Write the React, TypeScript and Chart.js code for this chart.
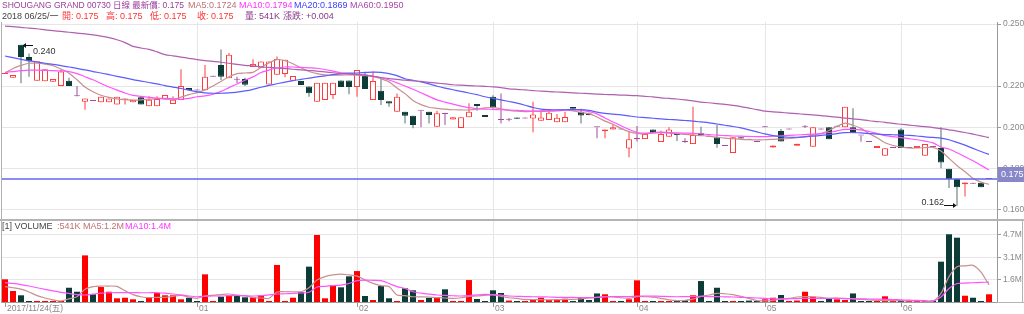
import React, { useEffect, useRef } from "react";
import { Chart, registerables } from "chart.js";
Chart.register(...registerables);

const FONT = '"Liberation Sans", Arial, "Noto Sans CJK TC", sans-serif';

// ---------------- data ----------------
const stockTitle = "SHOUGANG GRAND 00730 日線";
const lastDateLabel = "2018 06/25/一";
const monthTickIdx = [0, 24, 44, 61, 79, 95, 112];
const monthLabels = ["2017/11/24(五)", "01", "02", "03", "04", "05", "06"];
const priceTicks = [0.16, 0.18, 0.2, 0.22, 0.25];
const volTicks = [1.6, 3.1, 4.7];

const opens = [
  0.2258, 0.2240, 0.2400, 0.2340, 0.2226, 0.2223, 0.2221, 0.2200, 0.2226, 0.2150,
  0.2124, 0.2127, 0.2121, 0.2121, 0.2111, 0.2132, 0.2121, 0.2145, 0.2102, 0.2102,
  0.2135, 0.2113, 0.2132, 0.2190, 0.2178, 0.2180, 0.2245, 0.2302, 0.2237, 0.2230,
  0.2234, 0.2292, 0.2288, 0.2207, 0.2255, 0.2258, 0.2225, 0.2224, 0.2197, 0.2124,
  0.2132, 0.2157, 0.2227, 0.2227, 0.2195, 0.2256, 0.2132, 0.2177, 0.2126, 0.2076,
  0.2076, 0.2056, 0.2080, 0.2076, 0.2003, 0.2065, 0.2038, 0.1997, 0.2049, 0.2113,
  0.2060, 0.2148, 0.2035, 0.2037, 0.2048, 0.2043, 0.2043, 0.2032, 0.2035, 0.2025,
  0.2025, 0.2098, 0.2076, 0.2067, 0.2000, 0.1982, 0.1990, 0.1990, 0.1898, 0.1943,
  0.1943, 0.1990, 0.1929, 0.1955, 0.1968, 0.1929, 0.1919, 0.1971, 0.1955, 0.1952,
  0.1910, 0.1876, 0.1952, 0.1940, 0.1929, 0.2000, 0.1902, 0.1982, 0.1990, 0.1911,
  0.2003, 0.1906, 0.1990, 0.2000, 0.2003, 0.2000, 0.2000, 0.1960, 0.1929, 0.1900,
  0.1862, 0.1900, 0.1990, 0.1900, 0.1900, 0.1862, 0.1905, 0.1900, 0.1800, 0.1750,
  0.1725, 0.1727, 0.1732, 0.1750,
];
const highs = [
  0.2262, 0.2253, 0.2400, 0.2357, 0.2320, 0.2281, 0.2234, 0.2280, 0.2240, 0.2200,
  0.2140, 0.2127, 0.2148, 0.2139, 0.2148, 0.2140, 0.2132, 0.2150, 0.2150, 0.2150,
  0.2156, 0.2150, 0.2281, 0.2190, 0.2178, 0.2302, 0.2245, 0.2377, 0.2360, 0.2245,
  0.2240, 0.2329, 0.2318, 0.2318, 0.2343, 0.2327, 0.2248, 0.2224, 0.2197, 0.2216,
  0.2216, 0.2216, 0.2227, 0.2227, 0.2277, 0.2270, 0.2270, 0.2235, 0.2126, 0.2164,
  0.2076, 0.2056, 0.2080, 0.2076, 0.2080, 0.2070, 0.2049, 0.2049, 0.2117, 0.2113,
  0.2060, 0.2155, 0.2164, 0.2045, 0.2048, 0.2043, 0.2124, 0.2083, 0.2081, 0.2065,
  0.2075, 0.2098, 0.2090, 0.2070, 0.2000, 0.1990, 0.2016, 0.1990, 0.1982, 0.2006,
  0.1968, 0.1990, 0.1984, 0.2000, 0.1968, 0.1947, 0.2100, 0.2003, 0.1955, 0.2011,
  0.1910, 0.1952, 0.1952, 0.1940, 0.1929, 0.2000, 0.1912, 0.1992, 0.1990, 0.1920,
  0.2010, 0.2000, 0.1990, 0.2000, 0.2003, 0.2100, 0.2092, 0.1960, 0.1929, 0.1910,
  0.1899, 0.1900, 0.1995, 0.1900, 0.1910, 0.1919, 0.1905, 0.2000, 0.1800, 0.1750,
  0.1733, 0.1727, 0.1732, 0.1750,
];
const lows = [
  0.2258, 0.2240, 0.2213, 0.2245, 0.2226, 0.2223, 0.2221, 0.2200, 0.2200, 0.2150,
  0.2085, 0.2127, 0.2121, 0.2121, 0.2111, 0.2110, 0.2121, 0.2110, 0.2102, 0.2102,
  0.2135, 0.2113, 0.2132, 0.2180, 0.2178, 0.2180, 0.2245, 0.2229, 0.2237, 0.2215,
  0.2200, 0.2292, 0.2288, 0.2207, 0.2255, 0.2242, 0.2225, 0.2205, 0.2148, 0.2124,
  0.2132, 0.2137, 0.2195, 0.2160, 0.2148, 0.2185, 0.2132, 0.2108, 0.2099, 0.2076,
  0.2018, 0.1995, 0.2000, 0.2018, 0.2003, 0.2011, 0.2038, 0.1997, 0.2049, 0.2080,
  0.2050, 0.2090, 0.2019, 0.2030, 0.2042, 0.2043, 0.1976, 0.2032, 0.2035, 0.2025,
  0.2025, 0.2090, 0.2018, 0.2058, 0.1947, 0.1947, 0.1990, 0.1990, 0.1855, 0.1931,
  0.1943, 0.1971, 0.1929, 0.1955, 0.1934, 0.1926, 0.1919, 0.1962, 0.1955, 0.1901,
  0.1910, 0.1876, 0.1946, 0.1940, 0.1929, 0.2000, 0.1902, 0.1931, 0.1990, 0.1911,
  0.1997, 0.1906, 0.1990, 0.1942, 0.2003, 0.2000, 0.1971, 0.1930, 0.1929, 0.1900,
  0.1862, 0.1900, 0.1900, 0.1900, 0.1900, 0.1862, 0.1905, 0.1802, 0.1706, 0.1620,
  0.1665, 0.1727, 0.1710, 0.1750,
];
const closes = [
  0.2262, 0.2253, 0.2340, 0.2320, 0.2320, 0.2281, 0.2234, 0.2270, 0.2200, 0.2150,
  0.2140, 0.2127, 0.2148, 0.2139, 0.2148, 0.2140, 0.2132, 0.2110, 0.2134, 0.2137,
  0.2156, 0.2134, 0.2200, 0.2180, 0.2178, 0.2245, 0.2245, 0.2245, 0.2351, 0.2230,
  0.2206, 0.2307, 0.2318, 0.2318, 0.2331, 0.2327, 0.2248, 0.2205, 0.2165, 0.2216,
  0.2216, 0.2216, 0.2195, 0.2195, 0.2277, 0.2185, 0.2224, 0.2132, 0.2115, 0.2148,
  0.2056, 0.2011, 0.2080, 0.2060, 0.2068, 0.2065, 0.2049, 0.2049, 0.2076, 0.2103,
  0.2050, 0.2095, 0.2035, 0.2037, 0.2042, 0.2043, 0.2062, 0.2048, 0.2070, 0.2046,
  0.2050, 0.2090, 0.2057, 0.2060, 0.2000, 0.1990, 0.2000, 0.1990, 0.1942, 0.1943,
  0.1968, 0.1971, 0.1968, 0.1990, 0.1963, 0.1929, 0.1963, 0.1962, 0.1955, 0.1919,
  0.1910, 0.1952, 0.1946, 0.1940, 0.1929, 0.2000, 0.1912, 0.1931, 0.1990, 0.1920,
  0.2003, 0.2000, 0.1990, 0.1942, 0.2003, 0.2100, 0.1971, 0.1960, 0.1929, 0.1910,
  0.1899, 0.1900, 0.1900, 0.1900, 0.1910, 0.1919, 0.1905, 0.1830, 0.1750, 0.1710,
  0.1733, 0.1727, 0.1710, 0.1750,
];
// volume in millions of shares
const volumes = [
  1.59, 0.77, 0.47, 0.03, 0.03, 0.03, 0.03, 0.03, 1.0, 0.72,
  3.27, 0.54, 1.05, 0.72, 0.26, 0.3, 0.19, 0.03, 0.33, 0.65,
  0.47, 0.47, 0.19, 0.3, 0.03, 1.94, 0.03, 0.37, 0.47, 0.42,
  0.33, 0.33, 0.47, 0.03, 2.6, 0.03, 0.3, 0.7, 2.48, 4.7,
  0.26, 1.19, 1.03, 1.8, 2.17, 0.42, 0.14, 1.12, 0.26, 0.03,
  0.96, 0.82, 0.14, 0.3, 0.35, 0.89, 0.03, 0.05, 1.54, 0.21,
  0.03, 0.82, 0.63, 0.1, 0.03, 0.03, 0.19, 0.3, 0.14, 0.14,
  0.23, 0.03, 0.3, 0.14, 0.6, 0.54, 0.03, 0.03, 0.19, 1.52,
  0.03, 0.03, 0.03, 0.03, 0.14, 0.14, 0.47, 1.47, 0.03, 1.0,
  0.03, 0.03, 0.03, 0.1, 0.03, 0.19, 0.3, 0.49, 0.03, 0.1,
  0.72, 0.37, 0.03, 0.21, 0.19, 0.14, 0.6, 0.03, 0.03, 0.03,
  0.4, 0.03, 0.03, 0.03, 0.03, 0.03, 0.1, 2.83, 4.75, 4.51,
  0.44, 0.3, 0.03, 0.541,
];
const ma5 = [
  0.2263, 0.2285, 0.2300, 0.2310, 0.2310, 0.2306, 0.2298, 0.2282, 0.2262, 0.2230,
  0.2195, 0.2172, 0.2155, 0.2145, 0.2138, 0.2134, 0.2132, 0.2133, 0.2136, 0.2139,
  0.2138, 0.2133, 0.2146, 0.2158, 0.2168, 0.2181, 0.2200, 0.2222, 0.2245, 0.2260,
  0.2263, 0.2266, 0.2290, 0.2312, 0.2328, 0.2322, 0.2308, 0.2288, 0.2270, 0.2260,
  0.2254, 0.2252, 0.2253, 0.2254, 0.2252, 0.2250, 0.2246, 0.2235, 0.2220, 0.2190,
  0.2163, 0.2130, 0.2110, 0.2097, 0.2092, 0.2088, 0.2085, 0.2084, 0.2084, 0.2088,
  0.2094, 0.2097, 0.2089, 0.2082, 0.2078, 0.2076, 0.2078, 0.2080, 0.2082, 0.2083,
  0.2084, 0.2080, 0.2072, 0.2066, 0.2050, 0.2030, 0.2015, 0.1995, 0.1979, 0.1971,
  0.1968, 0.1972, 0.1974, 0.1972, 0.1969, 0.1966, 0.1963, 0.1960, 0.1957, 0.1952,
  0.1948, 0.1945, 0.1942, 0.1940, 0.1939, 0.1940, 0.1942, 0.1944, 0.1946, 0.1950,
  0.1955, 0.1962, 0.1970, 0.1985, 0.2005, 0.2020, 0.2010, 0.1995, 0.1970, 0.1950,
  0.1925, 0.1912, 0.1905, 0.1900, 0.1900, 0.1902, 0.1903, 0.1885, 0.1850, 0.1815,
  0.1785, 0.1753, 0.1735, 0.1724,
];
const ma10 = [
  0.2266, 0.2270, 0.2274, 0.2277, 0.2277, 0.2276, 0.2274, 0.2273, 0.2270, 0.2260,
  0.2245, 0.2230, 0.2212, 0.2195, 0.2180, 0.2166, 0.2155, 0.2150, 0.2145, 0.2141,
  0.2140, 0.2138, 0.2136, 0.2140, 0.2148, 0.2152, 0.2160, 0.2174, 0.2192, 0.2210,
  0.2228, 0.2244, 0.2265, 0.2277, 0.2287, 0.2292, 0.2292, 0.2290, 0.2288, 0.2286,
  0.2280, 0.2272, 0.2264, 0.2260, 0.2256, 0.2252, 0.2248, 0.2240, 0.2229, 0.2215,
  0.2200, 0.2184, 0.2167, 0.2150, 0.2133, 0.2122, 0.2112, 0.2103, 0.2095, 0.2090,
  0.2088, 0.2087, 0.2085, 0.2084, 0.2082, 0.2080, 0.2078, 0.2077, 0.2078, 0.2080,
  0.2083, 0.2084, 0.2082, 0.2076, 0.2065, 0.2045, 0.2026, 0.2008, 0.1990, 0.1975,
  0.1972, 0.1975, 0.1977, 0.1975, 0.1973, 0.1972, 0.1971, 0.1968, 0.1965, 0.1962,
  0.1960, 0.1958, 0.1957, 0.1956, 0.1955, 0.1955, 0.1957, 0.1959, 0.1961, 0.1963,
  0.1965, 0.1967, 0.1970, 0.1975, 0.1983, 0.1990, 0.1990, 0.1988, 0.1980, 0.1970,
  0.1960, 0.1955, 0.1950, 0.1945, 0.1940, 0.1933, 0.1925, 0.1905, 0.1895, 0.1877,
  0.1858, 0.1838, 0.1816, 0.1794,
];
const ma20 = [
  0.2345, 0.2337, 0.2329, 0.2322, 0.2316, 0.2310, 0.2305, 0.2299, 0.2292, 0.2285,
  0.2278, 0.2270, 0.2263, 0.2255, 0.2247, 0.2239, 0.2231, 0.2224, 0.2217, 0.2210,
  0.2202, 0.2195, 0.2188, 0.2180, 0.2172, 0.2167, 0.2165, 0.2165, 0.2167, 0.2170,
  0.2176, 0.2184, 0.2194, 0.2203, 0.2211, 0.2219, 0.2226, 0.2232, 0.2238, 0.2244,
  0.2249, 0.2255, 0.2260, 0.2262, 0.2263, 0.2265, 0.2267, 0.2266, 0.2260, 0.2250,
  0.2235, 0.2228, 0.2220, 0.2210, 0.2199, 0.2190, 0.2182, 0.2174, 0.2166, 0.2158,
  0.2148, 0.2140, 0.2133, 0.2125, 0.2117, 0.2107, 0.2096, 0.2088, 0.2086, 0.2085,
  0.2085, 0.2086, 0.2086, 0.2082, 0.2074, 0.2068, 0.2064, 0.2060, 0.2055, 0.2050,
  0.2047, 0.2044, 0.2041, 0.2038, 0.2036, 0.2033, 0.2030, 0.2026, 0.2022, 0.2016,
  0.2010, 0.2004, 0.1997, 0.1988, 0.1978, 0.1968, 0.1960, 0.1955, 0.1952, 0.1952,
  0.1954, 0.1957, 0.1961, 0.1965, 0.1970, 0.1974, 0.1975, 0.1973, 0.1970, 0.1967,
  0.1965, 0.1964, 0.1963, 0.1961, 0.1958, 0.1954, 0.1951, 0.1948, 0.1940, 0.1927,
  0.1914, 0.1898, 0.1883, 0.1869,
];
const ma60 = [
  0.2490, 0.2487, 0.2484, 0.2480, 0.2477, 0.2472, 0.2468, 0.2464, 0.2460, 0.2456,
  0.2452, 0.2447, 0.2441, 0.2434, 0.2424, 0.2410, 0.2392, 0.2384, 0.2377, 0.2365,
  0.2352, 0.2346, 0.2340, 0.2334, 0.2328, 0.2323, 0.2319, 0.2315, 0.2310, 0.2305,
  0.2300, 0.2297, 0.2293, 0.2290, 0.2287, 0.2284, 0.2281, 0.2278, 0.2275, 0.2272,
  0.2268, 0.2264, 0.2260, 0.2258, 0.2256, 0.2252, 0.2247, 0.2241, 0.2236, 0.2232,
  0.2228, 0.2225, 0.2222, 0.2218, 0.2214, 0.2210, 0.2206, 0.2204, 0.2202, 0.2200,
  0.2198, 0.2196, 0.2192, 0.2186, 0.2184, 0.2181, 0.2178, 0.2175, 0.2173, 0.2171,
  0.2169, 0.2167, 0.2165, 0.2163, 0.2161, 0.2159, 0.2158, 0.2156, 0.2155, 0.2153,
  0.2150, 0.2147, 0.2143, 0.2140, 0.2137, 0.2133, 0.2128, 0.2122, 0.2119, 0.2115,
  0.2111, 0.2106, 0.2100, 0.2093, 0.2086, 0.2078, 0.2075, 0.2072, 0.2069, 0.2066,
  0.2063, 0.2060, 0.2057, 0.2053, 0.2049, 0.2045, 0.2041, 0.2037, 0.2032, 0.2028,
  0.2024, 0.2019, 0.2015, 0.2011, 0.2007, 0.2003, 0.1999, 0.1994, 0.1988, 0.1982,
  0.1975, 0.1967, 0.1959, 0.1950,
];
const volMa5 = [
  1.08, 1.00, 0.90, 0.70, 0.45, 0.28, 0.15, 0.07, 0.22, 0.37,
  0.89, 1.08, 1.12, 1.12, 1.10, 0.80, 0.52, 0.37, 0.30, 0.33,
  0.33, 0.40, 0.47, 0.35, 0.26, 0.42, 0.47, 0.52, 0.56, 0.48,
  0.42, 0.33, 0.28, 0.26, 0.70, 0.72, 0.72, 0.72, 1.00, 1.54,
  1.78, 1.90, 1.96, 1.90, 1.82, 1.55, 1.31, 1.15, 1.08, 0.49,
  0.45, 0.37, 0.36, 0.35, 0.30, 0.28, 0.26, 0.30, 0.40, 0.42,
  0.47, 0.50, 0.40, 0.30, 0.25, 0.18, 0.17, 0.16, 0.15, 0.16,
  0.18, 0.19, 0.22, 0.28, 0.32, 0.38, 0.35, 0.30, 0.25, 0.38,
  0.37, 0.34, 0.25, 0.15, 0.10, 0.12, 0.20, 0.40, 0.49, 0.61,
  0.58, 0.52, 0.40, 0.25, 0.10, 0.08, 0.12, 0.20, 0.25, 0.35,
  0.38, 0.37, 0.32, 0.25, 0.28, 0.26, 0.22, 0.18, 0.15, 0.12,
  0.10, 0.09, 0.09, 0.08, 0.08, 0.06, 0.06, 0.61, 1.78, 2.48,
  2.53, 2.57, 2.10, 1.20,
];
const volMa10 = [
  1.36, 1.30, 1.22, 1.12, 1.00, 0.89, 0.78, 0.68, 0.60, 0.52,
  0.49, 0.55, 0.62, 0.65, 0.66, 0.66, 0.66, 0.65, 0.65, 0.65,
  0.62, 0.56, 0.50, 0.42, 0.37, 0.40, 0.42, 0.42, 0.45, 0.47,
  0.45, 0.42, 0.45, 0.50, 0.56, 0.58, 0.60, 0.63, 0.68, 1.05,
  1.10, 1.15, 1.19, 1.30, 1.50, 1.54, 1.52, 1.50, 1.30, 1.08,
  0.95, 0.72, 0.62, 0.55, 0.49, 0.46, 0.44, 0.42, 0.45, 0.50,
  0.54, 0.52, 0.48, 0.42, 0.40, 0.38, 0.37, 0.36, 0.35, 0.33,
  0.32, 0.32, 0.31, 0.31, 0.33, 0.37, 0.38, 0.38, 0.38, 0.42,
  0.42, 0.41, 0.40, 0.38, 0.37, 0.38, 0.38, 0.40, 0.38, 0.38,
  0.36, 0.35, 0.33, 0.30, 0.28, 0.25, 0.22, 0.22, 0.23, 0.24,
  0.25, 0.25, 0.26, 0.26, 0.25, 0.24, 0.23, 0.22, 0.21, 0.20,
  0.19, 0.17, 0.15, 0.13, 0.11, 0.09, 0.08, 0.35, 0.95, 1.30,
  1.33, 1.35, 1.37, 1.40,
];

// ---------------- styling ----------------
const UP = "#ff3b3b";
const DOWN = "#0c3b38";
const DOWN_WICK = "#56706e";
const DOJI = "#a04aa0";
const VOL_UP = "#ff0000";
const C_MA5 = "#c89090";
const C_MA10 = "#ff55ff";
const C_MA20 = "#5c5cff";
const C_MA60 = "#b060b0";
const GRID = "#e6e6e6";
const AXIS = "#9a9a9a";
const LABEL = "#888";

const X_MIN = -0.375;
const X_MAX = 124.0;
const P_MIN = 0.15516;
const P_MAX = 0.25097;
const V_MAX = 5.752;

const dirOf = (i: number) => {
  const d = closes[i] - opens[i];
  if (Math.abs(d) < 1e-7) return 0;
  return d > 0 ? 1 : -1;
};
const volUp = (i: number) => {
  const d = dirOf(i);
  if (d !== 0) return d > 0;
  return i === 0 ? true : closes[i] >= closes[i - 1];
};

const lineDs = (arr: number[], color: string) => ({
  type: "line",
  data: arr.map((v, i) => ({ x: i, y: v })),
  borderColor: color,
  borderWidth: 1.2,
  pointRadius: 0,
  tension: 0.25,
  fill: false,
  order: 1,
});

const xScale = (show: boolean) => ({
  type: "linear",
  min: X_MIN,
  max: X_MAX,
  offset: false,
  bounds: "data",
  afterBuildTicks: (s: any) => {
    s.ticks = monthTickIdx.map((v) => ({ value: v }));
  },
  afterFit: (s: any) => {
    s.height = show ? 12 : 0;
  },
  grid: {
    offset: false,
    color: (c: any) => (c.index === 0 ? "rgba(0,0,0,0)" : GRID),
    drawTicks: show,
    tickLength: 5,
    tickColor: AXIS,
  },
  border: { display: show, color: AXIS },
  ticks: {
    display: show,
    autoSkip: false,
    maxRotation: 0,
    minRotation: 0,
    align: "start",
    labelOffset: 2,
    padding: -3,
    color: LABEL,
    font: { size: 8.5, family: FONT },
    callback: (_v: any, i: number) => monthLabels[i],
  },
});

const priceExtras = {
  id: "priceExtras",
  afterDatasetsDraw(chart: any) {
    const { ctx, chartArea, scales } = chart;
    const xs = scales.x;
    const ys = scales.y;
    const n = closes.length;
    const last = closes[n - 1];
    const py = Math.round(ys.getPixelForValue(last));
    ctx.save();
    ctx.strokeStyle = "#6464f0";
    ctx.lineWidth = 1.6;
    ctx.beginPath();
    ctx.moveTo(chartArea.left, py);
    ctx.lineTo(chartArea.right, py);
    ctx.stroke();

    // max / min annotations
    let hi = 0;
    let lo = 0;
    for (let i = 0; i < n; i++) {
      if (highs[i] > highs[hi]) hi = i;
      if (lows[i] < lows[lo]) lo = i;
    }
    ctx.lineWidth = 1;
    ctx.strokeStyle = "#111";
    ctx.fillStyle = "#111";
    const hx = xs.getPixelForValue(hi);
    const hy = Math.round(ys.getPixelForValue(highs[hi])) + 0.5;
    ctx.beginPath();
    ctx.moveTo(hx + 12, hy);
    ctx.lineTo(hx + 3, hy);
    ctx.stroke();
    ctx.beginPath();
    ctx.moveTo(hx + 1.5, hy);
    ctx.lineTo(hx + 5, hy - 2.5);
    ctx.lineTo(hx + 5, hy + 2.5);
    ctx.closePath();
    ctx.fill();
    const lx = xs.getPixelForValue(lo);
    const ly = Math.round(ys.getPixelForValue(lows[lo])) - 0.5;
    ctx.beginPath();
    ctx.moveTo(lx - 13, ly);
    ctx.lineTo(lx - 3, ly);
    ctx.stroke();
    ctx.beginPath();
    ctx.moveTo(lx - 0.5, ly);
    ctx.lineTo(lx - 4, ly - 2.5);
    ctx.lineTo(lx - 4, ly + 2.5);
    ctx.closePath();
    ctx.fill();
    ctx.fillStyle = "#333";
    ctx.font = `9px ${FONT}`;
    ctx.textBaseline = "middle";
    ctx.textAlign = "left";
    ctx.fillText(highs[hi].toFixed(3), hx + 12, hy + 6.5);
    ctx.textAlign = "right";
    ctx.fillText(lows[lo].toFixed(3), lx - 13, ly - 2.5);

    // last price tag on axis
    const ya = ys.getPixelForValue(last);
    ctx.fillStyle = "#8787c9";
    ctx.fillRect(chartArea.right + 1, Math.round(ya) - 12, 27, 15);
    ctx.fillStyle = "#ffffff";
    ctx.textAlign = "left";
    ctx.font = `9px ${FONT}`;
    ctx.fillText(last.toFixed(3), chartArea.right + 4, Math.round(ya) - 4.5);
    ctx.restore();
  },
};

export default function App() {
  const priceRef = useRef<HTMLCanvasElement>(null);
  const volRef = useRef<HTMLCanvasElement>(null);

  useEffect(() => {
    const idx = closes.map((_, i) => i);
    const wickColors = idx.map((i) => (dirOf(i) > 0 ? UP : dirOf(i) < 0 ? DOWN_WICK : DOJI));
    const bodyFill = idx.map((i) => (dirOf(i) > 0 ? "#ffffff" : dirOf(i) < 0 ? DOWN : DOJI));
    const bodyBorder = idx.map((i) => (dirOf(i) > 0 ? UP : dirOf(i) < 0 ? DOWN : DOJI));

    const price = new Chart(priceRef.current as HTMLCanvasElement, {
      type: "bar",
      data: {
        datasets: [
          {
            type: "bar",
            data: idx.map((i) => ({ x: i, y: [lows[i], highs[i]] })),
            backgroundColor: wickColors,
            borderWidth: 0,
            grouped: false,
            barThickness: 1,
            maxBarThickness: 1,
            minBarLength: 1,
            inflateAmount: 0,
            order: 3,
          },
          {
            type: "bar",
            data: idx.map((i) => ({
              x: i,
              y: [Math.min(opens[i], closes[i]), Math.max(opens[i], closes[i])],
            })),
            backgroundColor: bodyFill,
            borderColor: bodyBorder,
            borderWidth: 1,
            borderSkipped: false,
            grouped: false,
            barThickness: 6,
            maxBarThickness: 6,
            minBarLength: 1,
            inflateAmount: 0,
            order: 2,
          },
          lineDs(ma60, C_MA60),
          lineDs(ma20, C_MA20),
          lineDs(ma10, C_MA10),
          lineDs(ma5, C_MA5),
        ] as any,
      },
      options: {
        responsive: false,
        animation: false,
        events: [],
        layout: { padding: { left: 2, right: 0, top: 22, bottom: 8 } },
        plugins: { legend: { display: false }, tooltip: { enabled: false } },
        scales: {
          x: xScale(false) as any,
          y: {
            type: "linear",
            position: "right",
            min: P_MIN,
            max: P_MAX,
            afterBuildTicks: (s: any) => {
              s.ticks = priceTicks.map((v) => ({ value: v }));
            },
            afterFit: (s: any) => {
              s.width = 27;
            },
            grid: { color: GRID, tickLength: 4, tickColor: AXIS },
            border: { color: AXIS },
            ticks: {
              color: LABEL,
              padding: 2,
              font: { size: 8.5, family: FONT },
              callback: (v: any) => Number(v).toFixed(3),
            },
          } as any,
        },
      },
      plugins: [priceExtras],
    });

    const vol = new Chart(volRef.current as HTMLCanvasElement, {
      type: "bar",
      data: {
        datasets: [
          {
            type: "bar",
            data: idx.map((i) => ({ x: i, y: volumes[i] })),
            backgroundColor: idx.map((i) => (volUp(i) ? VOL_UP : DOWN)),
            borderWidth: 0,
            grouped: false,
            barThickness: 6,
            maxBarThickness: 6,
            minBarLength: 1,
            inflateAmount: 0,
            order: 2,
          },
          lineDs(volMa10, C_MA10),
          lineDs(volMa5, C_MA5),
        ] as any,
      },
      options: {
        responsive: false,
        animation: false,
        events: [],
        layout: { padding: { left: 2, right: 0, top: 8, bottom: 0 } },
        plugins: { legend: { display: false }, tooltip: { enabled: false } },
        scales: {
          x: xScale(true) as any,
          y: {
            type: "linear",
            position: "right",
            min: 0,
            max: V_MAX,
            afterBuildTicks: (s: any) => {
              s.ticks = volTicks.map((v) => ({ value: v }));
            },
            afterFit: (s: any) => {
              s.width = 27;
            },
            grid: { color: GRID, tickLength: 4, tickColor: AXIS },
            border: { color: AXIS },
            ticks: {
              color: LABEL,
              padding: 2,
              font: { size: 8.5, family: FONT },
              callback: (v: any) => `${Number(v).toFixed(1)}M`,
            },
          } as any,
        },
      },
    });

    return () => {
      price.destroy();
      vol.destroy();
    };
  }, []);

  const n = closes.length;
  const last = closes[n - 1];
  const chg = last - closes[n - 2];
  const f3 = (v: number) => v.toFixed(3);
  const f4 = (v: number) => v.toFixed(4);
  const lastVolK = `${Math.round(volumes[n - 1] * 1000)}K`;

  const txt = (x: number, y: number, color: string, s: string, size = 9) => (
    <div
      style={{
        position: "absolute",
        left: x,
        top: y,
        color,
        fontSize: size,
        lineHeight: "11px",
        whiteSpace: "nowrap",
        fontFamily: FONT,
      }}
    >
      {s}
    </div>
  );

  return (
    <div
      style={{
        position: "fixed",
        left: 0,
        top: 0,
        width: 1024,
        height: 314,
        background: "#fff",
        overflow: "hidden",
      }}
    >
      <canvas
        ref={priceRef}
        width={1024}
        height={228}
        style={{ position: "absolute", left: 0, top: 0, width: 1024, height: 228 }}
      />
      <canvas
        ref={volRef}
        width={1024}
        height={102}
        style={{ position: "absolute", left: 0, top: 212, width: 1024, height: 102 }}
      />
      {/* frame lines */}
      <div style={{ position: "absolute", left: 1, top: 22, width: 1, height: 281, background: "#b0b0b0" }} />
      <div style={{ position: "absolute", left: 0, top: 219, width: 1024, height: 2, background: "#b4b4b4" }} />
      <div style={{ position: "absolute", left: 1022, top: 220, width: 1, height: 82, background: "#b4b4b4" }} />
      <div style={{ position: "absolute", left: 997, top: 302, width: 27, height: 1, background: "#b4b4b4" }} />

      {txt(2, 0, "#9a3d9a", `${stockTitle} 最新價: ${f3(last)}`, 8.5)}
      {txt(188, 0, "#c07070", `MA5:${f4(ma5[n - 1])}`)}
      {txt(239, 0, "#ff33ff", `MA10:${f4(ma10[n - 1])}`)}
      {txt(294, 0, "#3b3bff", `MA20:${f4(ma20[n - 1])}`)}
      {txt(350, 0, "#a844a8", `MA60:${f4(ma60[n - 1])}`)}

      {txt(2, 11, "#444", lastDateLabel)}
      {txt(62, 11, "#ff3333", `開: ${f3(opens[n - 1])}`)}
      {txt(106, 11, "#ff3333", `高: ${f3(highs[n - 1])}`)}
      {txt(150, 11, "#ff3333", `低: ${f3(lows[n - 1])}`)}
      {txt(197, 11, "#ff3333", `收: ${f3(last)}`)}
      {txt(245, 11, "#8a3a8a", `量: ${lastVolK}`)}
      {txt(283, 11, "#8a3a8a", `漲跌: ${chg >= 0 ? "+" : ""}${f3(chg)}`)}

      {txt(2, 221, "#444", "[1] VOLUME")}
      {txt(57, 221, "#c07070", `:${lastVolK} MA5:${volMa5[n - 1].toFixed(1)}M`)}
      {txt(125, 221, "#ff33ff", `MA10:${volMa10[n - 1].toFixed(1)}M`)}
    </div>
  );
}
